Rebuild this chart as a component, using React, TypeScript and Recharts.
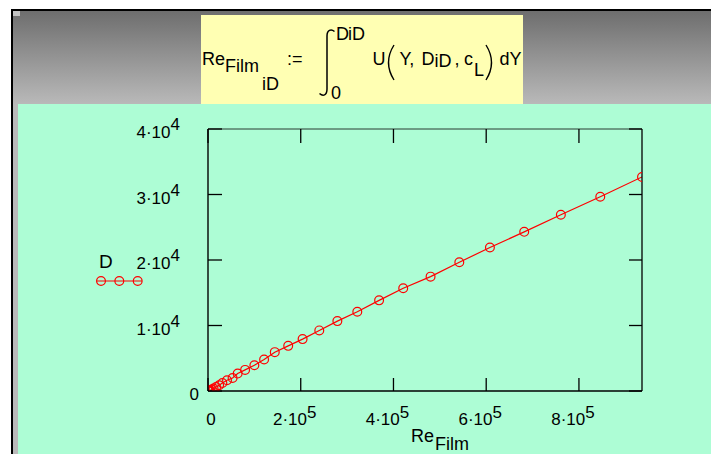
import React from "react";
import {
  ComposedChart,
  Line,
  XAxis,
  YAxis,
  Legend,
} from "recharts";

// film Reynolds number (x) against drop diameter D (y), one row per iD
const reFilm = [
  400, 1200, 2600, 4800, 8000, 12000, 17500, 24000, 31000, 41000, 53000, 64000,
  80000, 100000, 121000, 144000, 173000, 204000, 240000, 279000, 322000,
  369000, 421000, 480000, 542000, 608000, 682000, 761000, 846000, 936000,
];
const diameter = [
  10, 35, 70, 120, 220, 380, 600, 870, 1230, 1640, 1990, 2660, 3220, 3940,
  4810, 5930, 6890, 7920, 9250, 10670, 12100, 13840, 15680, 17460, 19660,
  21900, 24300, 26900, 29660, 32680,
];

const xTicks = [0, 200000, 400000, 600000, 800000];
const yTicks = [0, 10000, 20000, 30000, 40000];
const X_MAX = 936000;
const Y_MAX = 40000;

const rows = reFilm.map((re, i) => ({ re, d: diameter[i] }));

const FONT = "'Liberation Sans', Arial, sans-serif";
const RED = "#ff0000";
const TICK = { stroke: "#000", strokeWidth: 1.3 };

// Mathcad style "m·10^e" label
function sci(v: number) {
  if (v === 0) return { base: "0", exp: "" };
  const e = Math.floor(Math.log10(v));
  const m = Math.round(v / Math.pow(10, e));
  return { base: `${m}\u00b710`, exp: String(e) };
}

// ticks point into the plot box; labels sit outside
function YTick(props: any) {
  const { x, y, payload } = props;
  const { base, exp } = sci(payload.value);
  return (
    <g>
      <line x1={x} y1={y} x2={x + 14} y2={y} {...TICK} />
      <text
        x={exp ? x - 28 : x - 9}
        y={y + 9}
        textAnchor="end"
        fontFamily={FONT}
        fontSize={17}
        fill="#000"
      >
        <tspan>{base}</tspan>
        {exp && <tspan dy={-8}>{exp}</tspan>}
      </text>
    </g>
  );
}

function XTick(props: any) {
  const { x, y, payload } = props;
  const { base, exp } = sci(payload.value);
  return (
    <g>
      <line x1={x} y1={y} x2={x} y2={y - 13} {...TICK} />
      <text
        x={exp ? x - 6 : x + 3}
        y={y + 34}
        textAnchor="middle"
        fontFamily={FONT}
        fontSize={17}
        fill="#000"
      >
        <tspan>{base}</tspan>
        {exp && <tspan dy={-7}>{exp}</tspan>}
      </text>
    </g>
  );
}

function TopTick(props: any) {
  const { x, y } = props;
  return <line x1={x} y1={y} x2={x} y2={y + 14} {...TICK} />;
}

function RightTick(props: any) {
  const { x, y } = props;
  return <line x1={x} y1={y} x2={x - 13} y2={y} {...TICK} />;
}

function XTitle(props: any) {
  const { viewBox } = props;
  return (
    <text
      x={viewBox.x + 203}
      y={viewBox.y + 51}
      fontFamily={FONT}
      fontSize={18}
      fill="#000"
    >
      <tspan>Re</tspan>
      <tspan dx={1} dy={8}>Film</tspan>
    </text>
  );
}

function LegendKey(props: any) {
  const item = props.payload?.[0];
  const color = item?.color ?? RED;
  return (
    <svg width={60} height={40} style={{ display: "block" }}>
      <text x={9} y={18} fontFamily={FONT} fontSize={19} fill="#000">
        {item?.value ?? "D"}
      </text>
      <line x1={6.5} y1={31} x2={52} y2={31} stroke={color} strokeWidth={1.2} />
      {[11, 29.3, 47.7].map((cx) => (
        <circle key={cx} cx={cx} cy={31} r={4.4} fill="none" stroke={color} strokeWidth={1.2} />
      ))}
    </svg>
  );
}

function Formula() {
  const t = { fontFamily: FONT, fontSize: 18, fill: "#000" };
  return (
    <svg
      width={711}
      height={454}
      style={{ position: "absolute", left: 0, top: 0 }}
    >
      <text {...t} x={202} y={64.7}>Re</text>
      <text {...t} x={225} y={72}>Film</text>
      <text {...t} x={262} y={89.7}>iD</text>
      <text {...t} x={287} y={64.7}>:=</text>
      <path
        d="M 334.5 31.5 C 331 28.5 327 30 327 36 L 327 89 C 327 95.5 323 96.5 319.5 93.5"
        fill="none"
        stroke="#000"
        strokeWidth={1.5}
      />
      <text {...t} x={336} y={40.3}>D</text>
      <text {...t} x={348} y={40.3}>iD</text>
      <text {...t} x={331} y={99.3}>0</text>
      <text {...t} x={372.5} y={64.7}>U</text>
      <path d="M 394 45 Q 383 62.5 394 80" fill="none" stroke="#000" strokeWidth={1.4} />
      <text {...t} x={399.5} y={64.7}>Y,</text>
      <text {...t} x={421.5} y={64.7}>D</text>
      <text {...t} x={434.5} y={67}>iD</text>
      <text {...t} x={454.5} y={64.7}>,</text>
      <text {...t} x={464} y={64.7}>c</text>
      <text {...t} x={474} y={76}>L</text>
      <path d="M 486 45 Q 497 62.5 486 80" fill="none" stroke="#000" strokeWidth={1.4} />
      <text {...t} x={499.5} y={64.7}>dY</text>
    </svg>
  );
}

export default function App() {
  return (
    <div
      style={{
        position: "absolute",
        left: 0,
        top: 0,
        width: 711,
        height: 454,
        background: "#fff",
        overflow: "hidden",
      }}
    >
      {/* worksheet frame and region backgrounds */}
      <div style={{ position: "absolute", left: 11, top: 9, width: 700, height: 445, background: "#000" }} />
      <div
        style={{
          position: "absolute",
          left: 13,
          top: 11,
          width: 698,
          height: 443,
          background: "linear-gradient(to bottom, #6e6e6e 0px, #bababa 94px, #bababa 100%)",
        }}
      />
      <div style={{ position: "absolute", left: 13, top: 11, width: 7, height: 5, background: "#c4c4c4" }} />
      <div style={{ position: "absolute", left: 18, top: 104, width: 693, height: 350, background: "#adfdd5" }} />
      <div style={{ position: "absolute", left: 201, top: 15, width: 322, height: 89, background: "#ffffb3" }} />
      <Formula />

      <div style={{ position: "absolute", left: 0, top: 0 }}>
        <ComposedChart
          width={711}
          height={454}
          data={rows}
          margin={{ top: 0, right: 0, bottom: 0, left: 0 }}
        >
          <XAxis
            xAxisId="bottom"
            orientation="bottom"
            type="number"
            dataKey="re"
            domain={[0, X_MAX]}
            ticks={xTicks}
            interval={0}
            allowDataOverflow
            height={63}
            tickSize={0}
            tickMargin={0}
            tickLine={false}
            tick={<XTick />}
            axisLine={{ stroke: "#000", strokeWidth: 1.4 }}
            label={{ content: XTitle }}
          />
          <XAxis
            xAxisId="top"
            orientation="top"
            type="number"
            dataKey="re"
            domain={[0, X_MAX]}
            ticks={xTicks}
            interval={0}
            allowDataOverflow
            height={129}
            tickSize={0}
            tickMargin={0}
            tickLine={false}
            tick={<TopTick />}
            axisLine={{ stroke: "#2a3a32", strokeWidth: 1 }}
          />
          <YAxis
            yAxisId="left"
            orientation="left"
            type="number"
            domain={[0, Y_MAX]}
            ticks={yTicks}
            interval={0}
            allowDataOverflow
            width={208}
            tickSize={0}
            tickMargin={0}
            tickLine={false}
            tick={<YTick />}
            axisLine={{ stroke: "#000", strokeWidth: 1.4 }}
          />
          <YAxis
            yAxisId="right"
            orientation="right"
            type="number"
            domain={[0, Y_MAX]}
            ticks={yTicks}
            interval={0}
            allowDataOverflow
            width={69}
            tickSize={0}
            tickMargin={0}
            tickLine={false}
            tick={<RightTick />}
            axisLine={{ stroke: "#000", strokeWidth: 1.3 }}
          />
          <Legend
            layout="vertical"
            align="center"
            verticalAlign="middle"
            content={LegendKey}
            wrapperStyle={{ left: 90, top: 250, width: 60, height: 40 }}
          />
          <Line
            xAxisId="bottom"
            yAxisId="left"
            type="linear"
            dataKey="d"
            name="D"
            stroke={RED}
            strokeWidth={1.2}
            dot={{ r: 4.4, fill: "none", stroke: RED, strokeWidth: 1.2 }}
            activeDot={false}
            isAnimationActive={false}
          />
        </ComposedChart>
      </div>
    </div>
  );
}
